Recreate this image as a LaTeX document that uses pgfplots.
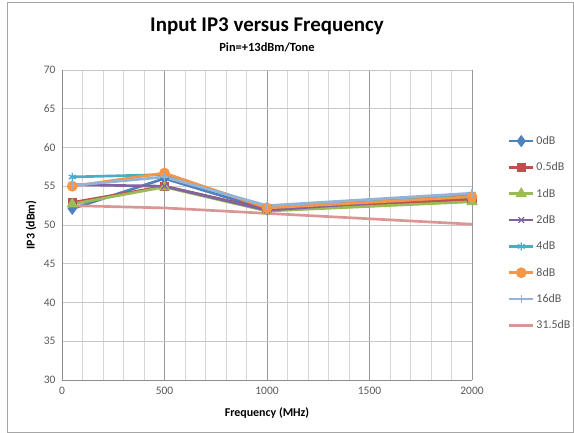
\documentclass[border=0pt]{standalone}
\usepackage{pgfplots}
\pgfplotsset{compat=1.18}
\usepackage{fontspec}
\setmainfont{Carlito}
\definecolor{c0}{HTML}{4F81BD}
\definecolor{c1}{HTML}{C0504D}
\definecolor{c2}{HTML}{9BBB59}
\definecolor{c3}{HTML}{8064A2}
\definecolor{c4}{HTML}{4BACC6}
\definecolor{c5}{HTML}{F79646}
\definecolor{c6}{HTML}{95B3D7}
\definecolor{c7}{HTML}{DA9694}
\definecolor{tick}{HTML}{595959}
\begin{document}
\begin{tikzpicture}[x=1bp,y=1bp]
\path[use as bounding box] (0,0) rectangle (574,433);
\draw[gray!70, line width=0.8pt] (7,0.5) rectangle (573.5,431);
\node[font=\fontsize{21}{24}\selectfont\bfseries] at (267,407) {Input IP3 versus Frequency};
\node[font=\fontsize{12.5}{14}\selectfont\bfseries] at (267,386) {Pin=+13dBm/Tone};
\node[font=\fontsize{12}{14}\selectfont\bfseries] at (267,20) {Frequency (MHz)};
\node[font=\fontsize{12}{14}\selectfont\bfseries, rotate=90] at (31,208) {IP3 (dBm)};
\begin{axis}[
  at={(62bp,53bp)}, anchor=south west,
  scale only axis, width=410bp, height=310bp,
  xmin=0, xmax=2000, ymin=30, ymax=70,
  xtick={0,500,1000,1500,2000},
  minor xtick={100,200,...,1900},
  ytick={30,35,...,70},
  xmajorgrids, ymajorgrids, xminorgrids,
  major x grid style={draw=black!40, line width=0.8pt},
  major y grid style={draw=black!22, line width=0.8pt},
  minor x grid style={draw=black!16, line width=0.8pt},
  axis line style={draw=black!45, line width=0.8pt},
  axis x line*=bottom, axis y line*=left,
  tick style={draw=black!45},
  major tick length=0pt, minor tick length=0pt,
  ticklabel style={font=\fontsize{11.5}{13}\selectfont, text=tick},
  /pgf/number format/assume math mode=true,
  /pgf/number format/1000 sep={},
  xticklabel style={yshift=-4bp},
  yticklabel style={xshift=-3bp},
  every axis plot/.append style={line width=2.7pt},
  legend image code/.code={\draw[mark repeat=2,mark phase=2] plot coordinates {(0cm,0cm) (0.42cm,0cm) (0.84cm,0cm)};},
  legend style={at={(1.08,0.80)}, anchor=north west, draw=none, fill=none,
    font=\fontsize{12}{13}\selectfont, row sep=12.6pt, text=tick},
  legend cell align=left,
  clip=false,
]
\addplot[color=c0, mark=diamond*, mark size=4pt] coordinates {(50,52.1) (500,56.0) (1000,52.0) (2000,53.5)};
\addlegendentry{0dB}
\addplot[color=c1, mark=square*, mark size=3.3pt] coordinates {(50,52.9) (500,55.0) (1000,52.0) (2000,53.3)};
\addlegendentry{0.5dB}
\addplot[color=c2, mark=triangle*, mark size=4pt] coordinates {(50,52.7) (500,54.9) (1000,51.8) (2000,53.0)};
\addlegendentry{1dB}
\addplot[color=c3, mark=x, mark size=4pt, mark options={line width=1.3pt}] coordinates {(50,55.2) (500,55.0) (1000,51.9) (2000,53.8)};
\addlegendentry{2dB}
\addplot[color=c4, mark=asterisk, mark size=4pt, mark options={line width=1.3pt}] coordinates {(50,56.2) (500,56.5) (1000,52.3) (2000,54.0)};
\addlegendentry{4dB}
\addplot[color=c5, mark=*, mark size=4pt] coordinates {(50,55.0) (500,56.7) (1000,52.2) (2000,53.65)};
\addlegendentry{8dB}
\addplot[color=c6, mark=+, mark size=4pt, mark options={line width=1.3pt}] coordinates {(50,55.1) (500,56.2) (1000,52.5) (2000,54.1)};
\addlegendentry{16dB}
\addplot[color=c7, no marks] coordinates {(50,52.5) (500,52.2) (1000,51.5) (2000,50.1)};
\addlegendentry{31.5dB}
\end{axis}
\end{tikzpicture}
\end{document}
